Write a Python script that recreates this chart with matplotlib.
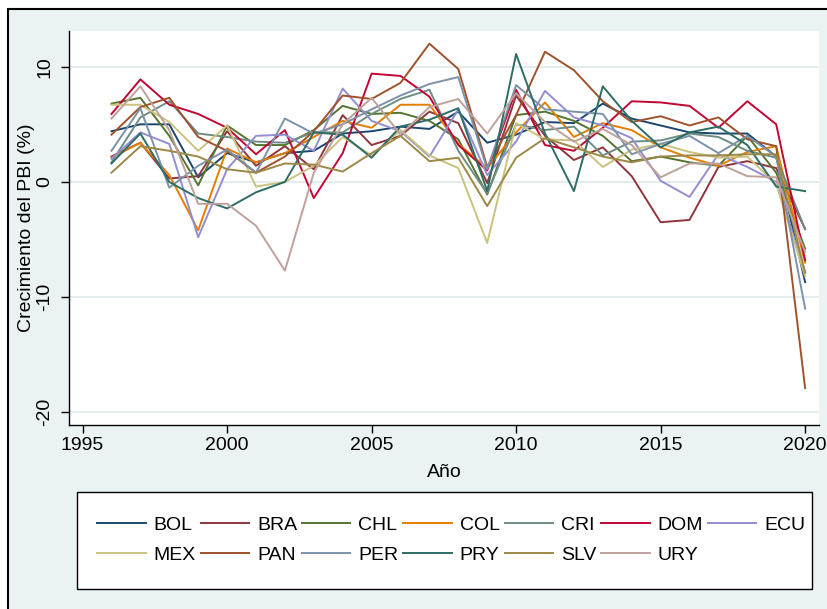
import matplotlib
matplotlib.use("Agg")
import matplotlib.pyplot as plt
from matplotlib.patches import Rectangle

plt.rcParams['font.family'] = ['Liberation Sans', 'DejaVu Sans']
plt.rcParams['axes.unicode_minus'] = False

years = list(range(1996, 2021))

# crecimiento del PBI (%) por pais, 1996-2020
BOL = [4.4, 5.0, 5.0, 0.4, 2.5, 1.7, 2.5, 2.7, 4.2, 4.4, 4.8, 4.6, 6.1, 3.4, 4.1, 5.2, 5.1, 6.8, 5.5, 4.9, 4.3, 4.2, 4.2, 2.2, -8.7]
BRA = [2.2, 3.4, 0.3, 0.5, 4.4, 1.4, 3.1, 1.1, 5.8, 3.2, 4.0, 6.1, 5.1, -0.1, 7.5, 4.0, 1.9, 3.0, 0.5, -3.5, -3.3, 1.3, 1.8, 1.2, -4.1]
CHL = [6.8, 7.3, 4.0, -0.3, 4.9, 3.2, 3.2, 4.5, 6.6, 5.9, 6.0, 5.3, 3.7, -1.1, 5.8, 6.1, 5.3, 4.0, 1.8, 2.2, 1.7, 1.4, 4.0, 0.8, -5.8]
COL = [2.1, 3.4, 0.6, -4.2, 2.9, 1.7, 2.5, 3.9, 5.3, 4.7, 6.7, 6.7, 3.3, 1.2, 4.3, 6.9, 3.9, 5.1, 4.5, 3.0, 2.1, 1.4, 2.6, 3.1, -7.0]
CRI = [1.7, 5.6, 7.0, 4.2, 3.9, 3.5, 3.4, 4.3, 4.3, 5.9, 7.2, 8.0, 2.7, -1.0, 5.0, 4.5, 4.8, 2.3, 3.5, 3.6, 4.2, 3.9, 2.7, 2.1, -4.1]
DOM = [5.9, 8.9, 6.7, 5.9, 4.7, 2.4, 4.5, -1.4, 2.5, 9.4, 9.2, 7.4, 3.2, 1.0, 8.0, 3.2, 2.7, 4.7, 7.0, 6.9, 6.6, 4.7, 7.0, 5.0, -6.8]
ECU = [2.0, 4.3, 3.3, -4.8, 1.1, 4.0, 4.1, 2.7, 8.1, 5.3, 4.4, 2.2, 6.3, 0.6, 3.5, 7.9, 5.6, 4.9, 3.8, 0.1, -1.3, 2.4, 1.3, 0.0, -7.8]
MEX = [6.7, 6.7, 5.2, 2.7, 4.9, -0.4, 0.0, 1.4, 3.9, 2.3, 4.5, 2.3, 1.2, -5.3, 5.1, 3.7, 3.6, 1.3, 2.8, 3.3, 2.6, 2.1, 2.2, -0.2, -8.2]
PAN = [4.1, 6.5, 7.3, 3.9, 2.7, 0.8, 2.2, 4.4, 7.5, 7.2, 8.6, 12.0, 9.8, 1.3, 5.8, 11.3, 9.7, 7.0, 5.2, 5.7, 4.9, 5.6, 3.7, 3.1, -17.9]
PER = [2.7, 6.4, -0.5, 1.4, 2.8, 0.8, 5.5, 4.2, 5.0, 6.3, 7.5, 8.5, 9.1, 1.1, 8.4, 6.3, 6.1, 5.9, 2.4, 3.3, 4.0, 2.5, 4.0, 2.2, -11.0]
PRY = [1.6, 4.2, 0.0, -1.4, -2.3, -0.9, 0.0, 4.3, 4.1, 2.1, 4.8, 5.4, 6.4, -0.8, 11.1, 4.2, -0.8, 8.3, 5.3, 3.0, 4.3, 4.8, 3.2, -0.4, -0.8]
SLV = [0.8, 3.1, 2.7, 2.2, 1.1, 0.8, 1.6, 1.5, 0.9, 2.5, 4.0, 1.8, 2.1, -2.1, 2.1, 3.8, 3.0, 2.2, 1.7, 2.2, 2.3, 2.3, 2.4, 2.4, -7.9]
URY = [5.5, 8.3, 4.5, -1.9, -1.9, -3.8, -7.7, 0.8, 5.0, 7.3, 4.1, 6.5, 7.2, 4.2, 7.7, 5.2, 3.5, 4.6, 3.2, 0.4, 1.6, 1.6, 0.5, 0.4, -6.1]

countries = ['BOL', 'BRA', 'CHL', 'COL', 'CRI', 'DOM', 'ECU', 'MEX', 'PAN', 'PER', 'PRY', 'SLV', 'URY']
series = [BOL, BRA, CHL, COL, CRI, DOM, ECU, MEX, PAN, PER, PRY, SLV, URY]
# paleta s2color de Stata
colores = ['#1A476F', '#90353B', '#55752F', '#E37E00', '#6E8E84', '#C10534', '#938DD2',
           '#CAC27E', '#A0522D', '#7B92A8', '#2D6D66', '#9C8847', '#BFA19C']

fig = plt.figure(figsize=(8.27, 6.09), dpi=100, facecolor='white')
W, H = 827, 609

# marco exterior
fig.patches.append(Rectangle((8 / W, -0.05), 1.05, 1 - 9 / H + 0.05, transform=fig.transFigure,
                             facecolor='#EAF2F3', edgecolor='black', linewidth=1.5, zorder=-5))
# caja de la leyenda
fig.patches.append(Rectangle((77 / W, 1 - 589 / H), (812 - 77) / W, (589 - 492) / H,
                             transform=fig.transFigure, facecolor='white', edgecolor='black',
                             linewidth=1.0, zorder=-4))

ax = fig.add_axes([69 / W, 1 - 425 / H, (819 - 69) / W, (425 - 31) / H])
ax.set_zorder(2)
ax.set_facecolor('white')

lineas = []
for nombre, y, c in zip(countries, series, colores):
    l, = ax.plot(years, y, color=c, lw=1.4, label=nombre)
    lineas.append(l)

ax.set_xlim(1994.53, 2020.48)
ax.set_ylim(-21.1, 13.1)
ax.set_xticks([1995, 2000, 2005, 2010, 2015, 2020])
ax.set_yticks([-20, -10, 0, 10])
ax.grid(axis='y', color='#E4ECEE', lw=1.5)
ax.set_axisbelow(True)
for s in ['top', 'right']:
    ax.spines[s].set_visible(False)
for s in ['left', 'bottom']:
    ax.spines[s].set_linewidth(1.0)
ax.tick_params(axis='both', length=5.5, width=1, labelsize=14)
ax.tick_params(axis='x', pad=3)
ax.tick_params(axis='y', pad=6)
for t in ax.get_yticklabels():
    t.set_rotation(90)
    t.set_va('center')

ax.set_ylabel('Crecimiento del PBI (%)', fontsize=14, labelpad=1)
ax.set_xlabel('Año', fontsize=14, labelpad=7)

# orden por filas (matplotlib llena por columnas)
orden = [0, 7, 1, 8, 2, 9, 3, 10, 4, 11, 5, 12, 6]
leg = fig.legend([lineas[i] for i in orden], [countries[i] for i in orden],
                 loc='center left', ncol=7, bbox_to_anchor=(97 / W, 1 - 540 / H),
                 fontsize=14, frameon=False, handlelength=2.5, borderpad=0, borderaxespad=0,
                 handletextpad=0.4, columnspacing=0.25, labelspacing=0.65)
leg.set_zorder(3)

fig.savefig('out.png', dpi=100, facecolor=fig.get_facecolor())
